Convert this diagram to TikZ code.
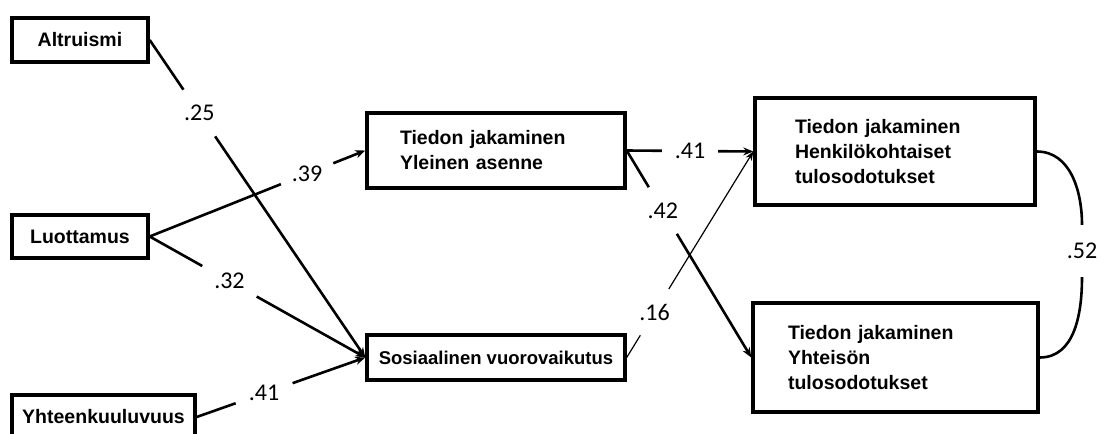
\documentclass[tikz,border=0pt]{standalone}
\usepackage{fontspec}
\setmainfont{Liberation Sans}
\newfontfamily\numfont{Carlito}
\usetikzlibrary{arrows.meta,calc}
\begin{document}
\begin{tikzpicture}[x=1pt,y=-1pt,
  box/.style={draw,line width=3.4pt,rectangle,inner sep=0pt,font=\bfseries\fontsize{19.5}{25}\selectfont},
  lab/.style={circle,inner sep=0pt,minimum size=56pt,font=\numfont\fontsize{24}{24}\selectfont},
  conn/.style={line width=2.6pt},
  arr/.style={conn,-{Stealth[length=10pt,width=8pt]}},
  thinarr/.style={line width=1.2pt,-{Stealth[length=9pt,width=7pt]}},
]
\useasboundingbox (0,0) rectangle (1104,434);
\clip (0,0) rectangle (1104,434);

% boxes
\node[box,minimum width=136pt,minimum height=44pt] (alt) at (80,40) {Altruismi};
\node[box,minimum width=136pt,minimum height=43pt] (lu) at (80,236.5) {Luottamus};
\node[box,minimum width=183pt,minimum height=44pt] (yh) at (103.5,417) {Yhteenkuuluvuus};
\node[box,minimum width=258pt,minimum height=75pt,text width=192pt,align=left] (yl) at (496,150.5) {Tiedon jakaminen\\Yleinen asenne};
\node[box,minimum width=258pt,minimum height=45pt,font=\bfseries\fontsize{18.5}{22}\selectfont] (soc) at (496,357.5) {Sosiaalinen vuorovaikutus};
\node[box,minimum width=280pt,minimum height=107pt,text width=200pt,align=left] (henk) at (895,151.5) {Tiedon jakaminen\\Henkilökohtaiset\\tulosodotukset};
\node[box,minimum width=285pt,minimum height=109pt,text width=215pt,align=left] (yht) at (895.5,357.5) {Tiedon jakaminen\\Yhteisön\\tulosodotukset};

% labels
\node[lab] (l25) at ($(alt.east)!0.23!(soc.west)$) {.25};
\node[lab] (l39) at ($(lu.east)!0.73!(yl.west)$) {.39};
\node[lab,minimum size=62pt] (l32) at ($(lu.east)!0.37!(soc.west)$) {.32};
\node[lab,minimum size=60pt] (l41a) at ($(yh.east)!0.40!(soc.west)$) {.41};
\node[lab] (l41b) at ($(yl.east)!0.5!(henk.west)$) {.41};
\node[lab,minimum size=54pt] (l42) at ($(yl.east)!0.29!(yht.west)$) {.42};
\node[lab,minimum size=54pt] (l16) at ($(soc.east)!0.22!(henk.west)$) {.16};
\node[lab,minimum size=52pt] (l52) at (1082,251) {.52};

% connectors
\draw[conn] (alt.east) -- (l25);
\draw[arr] (l25) -- (soc.west);
\draw[conn] (lu.east) -- (l39);
\draw[arr] (l39) -- (yl.west);
\draw[conn] (lu.east) -- (l32);
\draw[arr] (l32) -- (soc.west);
\draw[conn] (yh.east) -- (l41a);
\draw[arr] (l41a) -- (soc.west);
\draw[conn] (yl.east) -- (l41b);
\draw[arr] (l41b) -- (henk.west);
\draw[conn] (yl.east) -- (l42);
\draw[arr] (l42) -- (yht.west);
\draw[line width=1.2pt] (soc.east) -- (l16);
\draw[thinarr] (l16) -- (henk.west);
\draw[conn] (henk.east) to[out=0,in=90] (l52.north);
\draw[conn] (l52.south) to[out=-90,in=0] (yht.east);
\end{tikzpicture}
\end{document}
